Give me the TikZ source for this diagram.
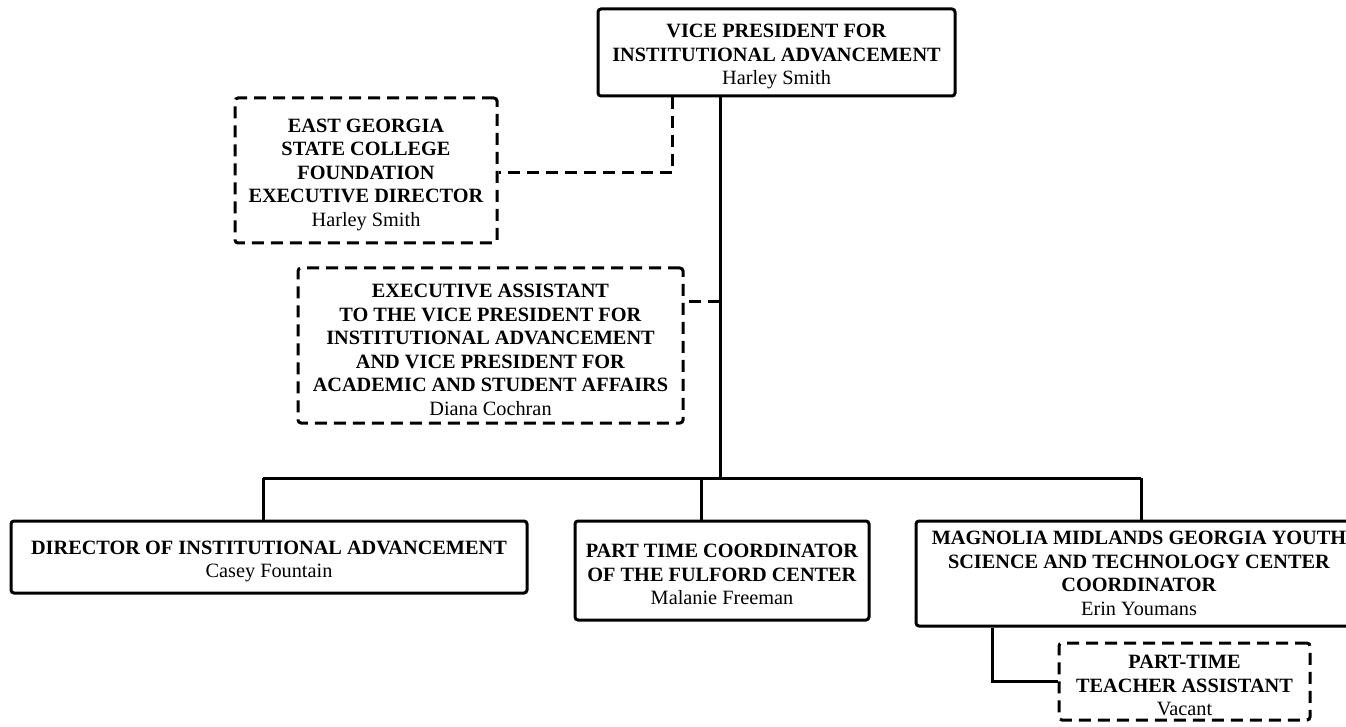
\documentclass[tikz,border=0pt]{standalone}
\usepackage{fontspec}
\setmainfont{Liberation Serif}
\newcommand\toppad{\rule{0pt}{22pt}}
\begin{document}
\begin{tikzpicture}[x=1pt,y=-1pt,
  box/.style={draw, line width=3pt, rounded corners=3pt, align=center, inner sep=0pt,
    font=\fontsize{20.3}{23.5}\selectfont},
  dbox/.style={box, dash pattern=on 12pt off 7pt},
  conn/.style={line width=3pt},
  dconn/.style={line width=3pt, dash pattern=on 12pt off 7pt}]
\useasboundingbox (0,0) rectangle (1346,727);
\node[box, minimum width=357pt, minimum height=87pt] (vp) at (776.5,52.5)
  {\toppad\textbf{VICE PRESIDENT FOR}\\\textbf{INSTITUTIONAL ADVANCEMENT}\\Harley Smith};
\node[dbox, minimum width=262pt, minimum height=145pt] (eg) at (366,170.5)
  {\toppad\textbf{EAST GEORGIA}\\\textbf{STATE COLLEGE}\\\textbf{FOUNDATION}\\\textbf{EXECUTIVE DIRECTOR}\\Harley Smith};
\node[dbox, minimum width=385pt, minimum height=155pt] (ea) at (490.5,345.5)
  {\toppad\textbf{EXECUTIVE ASSISTANT}\\\textbf{TO THE VICE PRESIDENT FOR}\\\textbf{INSTITUTIONAL ADVANCEMENT}\\\textbf{AND VICE PRESIDENT FOR}\\\textbf{ACADEMIC AND STUDENT AFFAIRS}\\Diana Cochran};
\node[box, minimum width=516pt, minimum height=72pt] (dir) at (269,557)
  {\toppad\textbf{DIRECTOR OF INSTITUTIONAL ADVANCEMENT}\\Casey Fountain};
\node[box, minimum width=294pt, minimum height=99pt] (ptc) at (722,570.5)
  {\toppad\textbf{PART TIME COORDINATOR}\\\textbf{OF THE FULFORD CENTER}\\Malanie Freeman};
\node[box, minimum width=446pt, minimum height=105pt] (mag) at (1139,573.5)
  {\textbf{MAGNOLIA MIDLANDS GEORGIA YOUTH}\\\textbf{SCIENCE AND TECHNOLOGY CENTER}\\\textbf{COORDINATOR}\\Erin Youmans};
\node[dbox, minimum width=251pt, minimum height=77pt] (ta) at (1184.5,681.5)
  {\toppad\textbf{PART-TIME}\\\textbf{TEACHER ASSISTANT}\\Vacant};
\coordinate (bus) at (720,478);
\coordinate (busL) at (263,478);
\coordinate (busM) at (701,478);
\coordinate (busR) at (1141,478);
\coordinate (egk) at (672,173);
\coordinate (eak) at (720,301);
\coordinate (mk) at (992,682);
\draw[conn] (vp.south -| bus) -- (bus);
\draw[conn] (busL) -- (busR);
\draw[conn] (busL) -- (dir.north -| busL);
\draw[conn] (busM) -- (ptc.north -| busM);
\draw[conn] (busR) -- (mag.north -| busR);
\draw[dconn] (vp.south -| egk) |- (eg.east |- egk);
\draw[dconn] (eak) -- (ea.east |- eak);
\draw[conn] (mag.south -| mk) |- (ta.west);
\end{tikzpicture}
\end{document}
